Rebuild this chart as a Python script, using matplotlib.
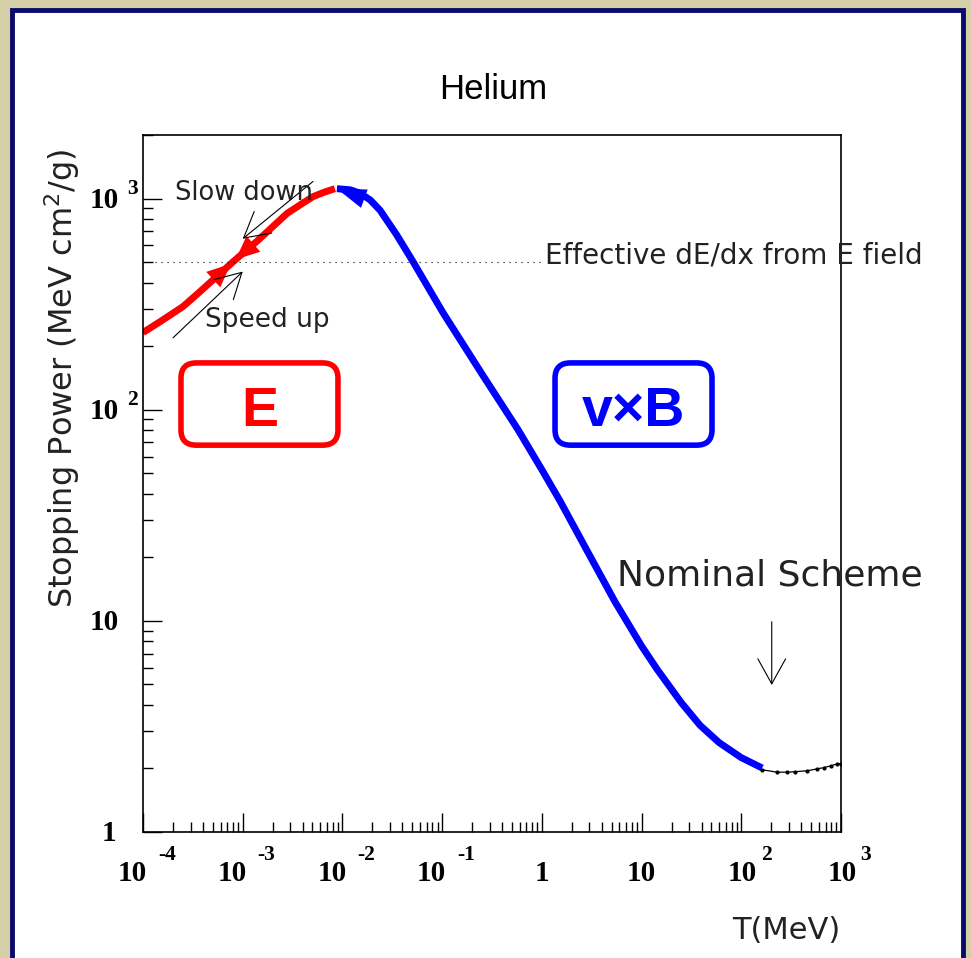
import numpy as np
import matplotlib
matplotlib.use("Agg")
import matplotlib.pyplot as plt
from matplotlib.patches import FancyBboxPatch, Rectangle

# E-field branch (below the peak)
t_red = [1.0e-4, 1.5e-4, 2.52e-4, 3.5e-4, 4.70e-4, 8.0e-4, 1.39e-3, 2.0e-3, 2.78e-3, 4.0e-3,
         5.07e-3, 6.5e-3, 8.4e-3]
s_red = [232, 262, 308, 353, 400, 502, 628, 736, 850, 951, 1021, 1070, 1114]

# v x B branch (above the peak)
t_blue = [8.8e-3, 0.0120, 0.0150, 0.0190, 0.0238, 0.035, 0.051, 0.102, 0.257, 0.577, 1.0,
          1.52, 3.0, 5.42, 10.0, 14.3, 25.0, 38.6, 60.0, 100.0, 162]
s_blue = [1114, 1100, 1060, 985, 881, 673, 503, 288, 145, 80.4, 52, 37, 20.5, 12.3, 7.6, 5.9,
          4.1, 3.2, 2.65, 2.25, 2.01]

# nominal region, thin line with points
t_nom = [163, 229, 288, 345, 457, 575, 678, 796, 914, 1000]
s_nom = [1.97, 1.92, 1.92, 1.93, 1.95, 1.99, 2.02, 2.06, 2.10, 2.11]

e_eff = 500          # effective dE/dx from E field
t_eff_end = 1.05

x_ticks = [1e-4, 1e-3, 1e-2, 1e-1, 1, 10, 1e2, 1e3]
y_ticks = [1, 10, 100, 1000]

fig = plt.figure(figsize=(9.71, 9.58), dpi=100)
fig.patch.set_facecolor('#d4cfa6')
fig.patches.append(Rectangle((12/971, -0.01), 951/971, 1.01 - 10/958, transform=fig.transFigure,
                             facecolor='white', edgecolor='#0b0b6b', linewidth=3.5,
                             zorder=-5))

ax = fig.add_axes([143/971, 1 - 832/958, 698/971, 697/958])
ax.patch.set_alpha(0)
ax.set_xscale('log')
ax.set_yscale('log')
ax.set_xlim(1e-4, 1e3)
ax.set_ylim(1, 2000)

ax.plot(t_red, s_red, color='red', lw=5, solid_capstyle='butt', solid_joinstyle='round')
ax.plot(t_blue, s_blue, color='blue', lw=5, solid_capstyle='butt', solid_joinstyle='round')
ax.plot(t_nom, s_nom, color='black', lw=0.9, marker='o', ms=2)
ax.plot([1e-4, t_eff_end], [e_eff, e_eff], color='black', lw=0.8, dashes=(1, 4.4))

lt, ls = np.log10(t_red), np.log10(s_red)
def on_red(t):
    return 10 ** np.interp(np.log10(t), lt, ls)

# arrows along the E branch, both pointing to the equilibrium point
for a, b in [(4.3e-4, 7.6e-4), (1.8e-3, 8.5e-4)]:
    ax.annotate('', xy=(b, on_red(b)), xytext=(a, on_red(a)),
                arrowprops=dict(arrowstyle='-|>,head_length=17,head_width=7.5',
                                mutation_scale=1, color='red', lw=0.01,
                                shrinkA=0, shrinkB=0))
# arrow at the top of the v x B branch
ax.annotate('', xy=(t_blue[0], s_blue[0]), xytext=(0.0185, 980),
            arrowprops=dict(arrowstyle='-|>,head_length=21,head_width=7',
                            mutation_scale=1, color='blue', lw=0.01,
                            shrinkA=0, shrinkB=0))

thin = dict(arrowstyle='->,head_length=18,head_width=10', mutation_scale=1,
            color='black', lw=0.8, shrinkA=0, shrinkB=0)
ax.annotate('', xy=(1.0e-3, 645), xytext=(5.07e-3, 1205), arrowprops=thin)
ax.annotate('', xy=(1.0e-3, 451), xytext=(2.0e-4, 219), arrowprops=thin)
ax.annotate('', xy=(202, 4.97), xytext=(202, 9.9), arrowprops=thin)

light = dict(family='DejaVu Sans', color='#222222')
ax.text(0.0458, 0.907, 'Slow down', transform=ax.transAxes, fontsize=18.5, va='baseline', **light)
ax.text(0.0888, 0.7245, 'Speed up', transform=ax.transAxes, fontsize=19, va='baseline', **light)
ax.text(0.576, 0.816, 'Effective dE/dx from E field', transform=ax.transAxes,
        fontsize=20, va='baseline', **light)
ax.text(0.679, 0.354, 'Nominal Scheme', transform=ax.transAxes, fontsize=26,
        va='baseline', **light)
ax.text(0.9986, -0.1535, 'T(MeV)', transform=ax.transAxes, fontsize=22, ha='right',
        va='baseline', **light)
ax.text(-0.116, 0.981, r'Stopping Power (MeV cm$^2$/g)', transform=ax.transAxes,
        fontsize=23, rotation=90, ha='center', va='top', **light)
ax.text(0.501, 1.0516, 'Helium', transform=ax.transAxes, fontsize=25, ha='center',
        va='baseline', family='Liberation Sans')

for x0, col, label in [(0.0544, 'red', 'E'), (0.5903, 'blue', 'v×B')]:
    ax.add_patch(FancyBboxPatch((x0, 0.555), 0.2249, 0.118,
                                boxstyle='round,pad=0,rounding_size=0.022',
                                transform=ax.transAxes, facecolor='none',
                                edgecolor=col, lw=4))
    ax.text(x0 + 0.1125, 0.603, label, transform=ax.transAxes, fontsize=40,
            color=col, ha='center', va='center', family='Liberation Sans',
            fontweight='bold')

# ROOT-like ticks: inside, bottom and left only
ax.set_xticks(x_ticks)
ax.set_yticks(y_ticks)
ax.tick_params(which='both', direction='in', top=False, right=False,
               labelbottom=False, labelleft=False)
ax.tick_params(which='major', length=14, width=1)
ax.tick_params(which='minor', length=7, width=1)
for sp in ax.spines.values():
    sp.set_linewidth(1.2)

# tick labels: bold serif "10" with a raised exponent
num = dict(family='Liberation Serif', fontweight='bold', color='black')
px = 0.72  # points per pixel at 100 dpi
for v in x_ticks:
    e = int(round(np.log10(v)))
    if e in (0, 1):
        ax.annotate(str(int(v)), xy=(v, 0), xycoords=('data', 'axes fraction'),
                    xytext=(0, -49 * px), textcoords='offset points',
                    ha='center', va='baseline', fontsize=21, **num)
    else:
        dx = -10.5 if e < 0 else 1
        ax.annotate('10', xy=(v, 0), xycoords=('data', 'axes fraction'),
                    xytext=(dx * px, -49 * px), textcoords='offset points',
                    ha='center', va='baseline', fontsize=21, **num)
        ax.annotate(str(e), xy=(v, 0), xycoords=('data', 'axes fraction'),
                    xytext=((dx + 15.5 + (10 if e < 0 else 3)) * px, -28 * px),
                    textcoords='offset points', ha='left', va='baseline',
                    fontsize=15.5, **num)
for v in y_ticks:
    e = int(round(np.log10(v)))
    if e in (0, 1):
        ax.annotate(str(int(v)), xy=(0, v), xycoords=('axes fraction', 'data'),
                    xytext=(-24 * px if e else -27 * px, -9 * px), textcoords='offset points',
                    ha='right', va='baseline', fontsize=21, **num)
    else:
        ax.annotate('10', xy=(0, v), xycoords=('axes fraction', 'data'),
                    xytext=(-24 * px, -9 * px), textcoords='offset points',
                    ha='right', va='baseline', fontsize=21, **num)
        ax.annotate(str(e), xy=(0, v), xycoords=('axes fraction', 'data'),
                    xytext=(-16 * px, 5 * px), textcoords='offset points',
                    ha='left', va='baseline', fontsize=15.5, **num)

fig.savefig('out.png', dpi=100, facecolor=fig.get_facecolor())
